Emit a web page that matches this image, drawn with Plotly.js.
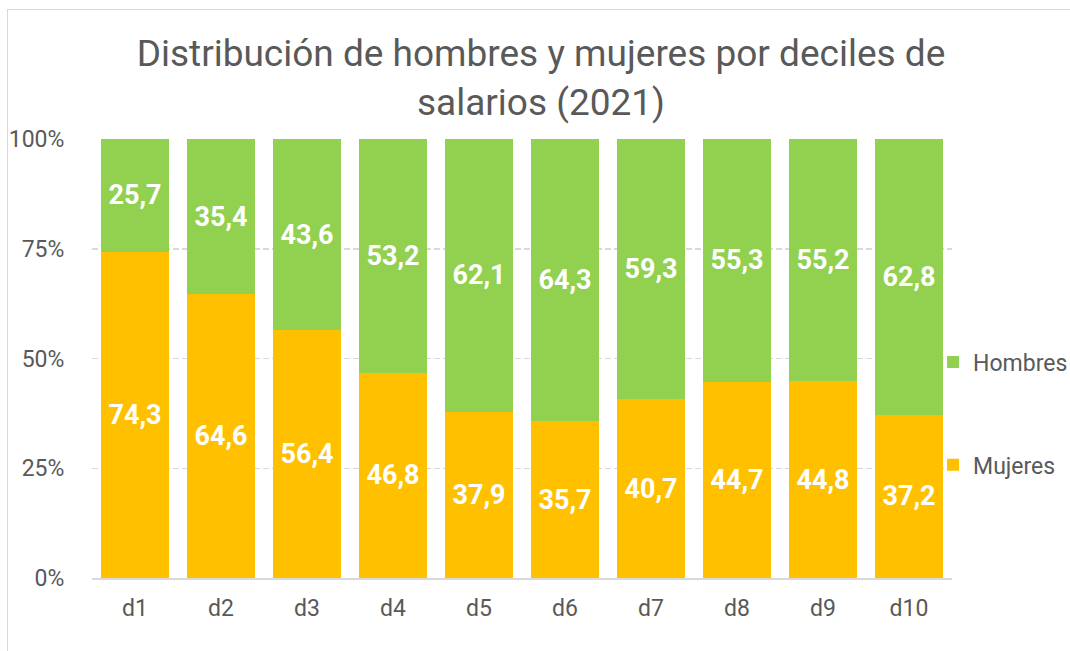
<!DOCTYPE html>
<html>
<head>
<meta charset="utf-8">
<script src="https://cdn.plot.ly/plotly-3.0.1.min.js"></script>
<style>
  html, body { margin: 0; padding: 0; background: #fff; overflow: hidden; }
  #wrap { position: relative; width: 1070px; height: 651px; }
  #chart { position: absolute; left: 0; top: 0; width: 1070px; height: 651px; }
  #frame { position: absolute; left: 7px; top: 9px; width: 1200px; height: 800px;
           border: 1.5px solid #d9d9d9; pointer-events: none; box-sizing: border-box; }
</style>
</head>
<body>
<div id="wrap">
  <div id="chart"></div>
  <div id="frame"></div>
</div>
<script>
const categories = ['d1','d2','d3','d4','d5','d6','d7','d8','d9','d10'];
const mujeres = [74.3, 64.6, 56.4, 46.8, 37.9, 35.7, 40.7, 44.7, 44.8, 37.2];
const hombres = [25.7, 35.4, 43.6, 53.2, 62.1, 64.3, 59.3, 55.3, 55.2, 62.8];
const yTicks = [0, 25, 50, 75, 100];
const titleText = 'Distribución de hombres y mujeres por deciles de<br>salarios (2021)';

const fmt = v => v.toFixed(1).replace('.', ',');
const labelFont = { family: 'Roboto, sans-serif', size: 27, color: '#ffffff', weight: 'bold' };

const traces = [
  {
    type: 'bar', name: 'Mujeres', x: categories, y: mujeres,
    text: mujeres.map(fmt), textposition: 'inside', insidetextanchor: 'middle',
    textangle: 0, textfont: labelFont, hoverinfo: 'x+y+name',
    marker: { color: '#FFC000' }, legendgroup: 'm', legendrank: 2
  },
  {
    type: 'bar', name: 'Hombres', x: categories, y: hombres,
    text: hombres.map(fmt), textposition: 'inside', insidetextanchor: 'middle',
    textangle: 0, textfont: labelFont, hoverinfo: 'x+y+name',
    marker: { color: '#92D050' }, legendgroup: 'h', legendrank: 1
  }
];

const layout = {
  width: 1070, height: 651,
  margin: { l: 92, r: 118, t: 139, b: 73, autoexpand: false },
  paper_bgcolor: 'rgba(0,0,0,0)', plot_bgcolor: 'rgba(0,0,0,0)',
  barmode: 'stack', bargap: 0.2,
  font: { family: 'Roboto, sans-serif', color: '#595959' },
  title: {
    text: titleText, font: { family: 'Roboto, sans-serif', size: 37, color: '#595959' },
    x: 0.5056, xref: 'container', xanchor: 'center',
    y: 0.898, yref: 'container', yanchor: 'top'
  },
  xaxis: {
    type: 'category', tickfont: { size: 23, color: '#595959' },
    showline: true, linecolor: '#d9d9d9', linewidth: 1.5,
    ticks: 'outside', ticklen: 9, tickcolor: 'rgba(0,0,0,0)',
    showgrid: false, zeroline: false
  },
  yaxis: {
    range: [0, 100], tickvals: yTicks, ticktext: yTicks.map(v => v + '%'),
    tickfont: { size: 23, color: '#595959' },
    ticks: 'outside', ticklen: 22, tickcolor: 'rgba(0,0,0,0)',
    showgrid: true, gridcolor: '#d9d9d9', gridwidth: 1.5, griddash: '6px,3px',
    zeroline: false, showline: false, fixedrange: true
  },
  showlegend: true,
  legend: {
    x: 0.978, xanchor: 'left', y: 0.3747, yanchor: 'middle',
    traceorder: 'grouped', tracegroupgap: 70,
    font: { size: 23, color: '#595959' }, bgcolor: 'rgba(0,0,0,0)',
    itemwidth: 30
  }
};

Plotly.newPlot('chart', traces, layout, { displayModeBar: false, staticPlot: true });
</script>
</body>
</html>
